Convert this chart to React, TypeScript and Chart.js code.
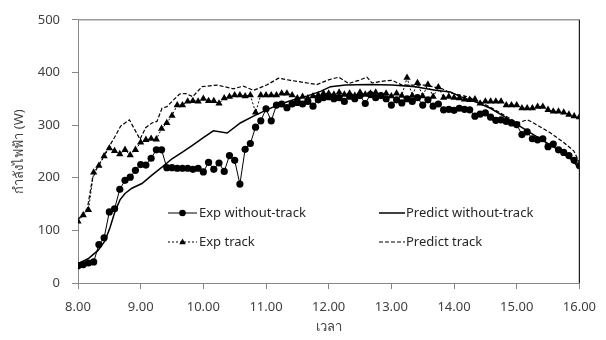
import React, { useEffect, useRef } from "react";
import { Chart, registerables } from "chart.js";

Chart.register(...registerables);

// ---------- DATA ----------
// Experimental readings every 5 minutes from 8.00 to 16.00 (97 readings)
const expStartHour = 8;
const expStepMinutes = 5;

const expWithoutTrack = [
  33, 35, 38, 40, 73, 86, 135, 141, 178, 195, 201, 214, 225, 224, 237, 253, 253, 219, 219, 218, 218, 218, 216, 218, 211,
  229, 216, 228, 212, 242, 233, 188, 254, 265, 296, 308, 331, 308, 338, 340, 333, 340, 343, 340, 345, 336, 348, 352, 354,
  350, 352, 345, 355, 350, 356, 341, 358, 352, 356, 350, 338, 348, 342, 350, 345, 352, 338, 348, 336, 340, 329, 330, 328,
  332, 330, 329, 317, 321, 323, 315, 309, 310, 307, 304, 301, 282, 287, 274, 272, 274, 259, 264, 253, 248, 242, 233, 223,
];

const expTrack = [
  117, 129, 139, 210, 223, 241, 256, 251, 245, 253, 243, 253, 267, 272, 274, 273, 293, 304, 318, 338, 338, 345, 346, 345, 350,
  346, 346, 341, 351, 354, 357, 357, 355, 357, 324, 357, 357, 357, 357, 360, 360, 357, 351, 354, 351, 355, 357, 360, 360,
  358, 362, 358, 360, 356, 362, 358, 360, 362, 356, 360, 355, 360, 356, 390, 356, 380, 355, 377, 354, 372, 352, 354, 352,
  351, 349, 348, 349, 341, 345, 345, 345, 345, 338, 338, 338, 332, 332, 332, 335, 335, 329, 326, 326, 324, 320, 317, 315,
];

// Predicted curves (time in decimal hours)
const predWithoutTrackTime = [
  8.0, 8.16, 8.32, 8.43, 8.51, 8.59, 8.67, 8.75, 8.86, 9.02, 9.18, 9.34, 9.5, 9.66, 9.82, 10.0, 10.16, 10.38, 10.59,
  10.8, 11.01, 11.23, 11.44, 11.65, 11.87, 12.03, 12.27, 12.64, 13.01, 13.38, 13.7, 13.94, 14.1, 14.37, 14.58, 14.79,
  15.01, 15.22, 15.43, 15.65, 15.86, 16.0,
];
const predWithoutTrack = [
  37, 46, 62, 80, 105, 136, 158, 170, 180, 189, 205, 220, 236, 248, 261, 276, 289, 285, 304, 317, 329, 340, 348, 355,
  364, 373, 376, 377, 376, 373, 366, 363, 354, 343, 332, 317, 301, 285, 270, 254, 236, 218,
];

const predTrackTime = [
  8.0, 8.15, 8.23, 8.31, 8.39, 8.47, 8.58, 8.68, 8.82, 8.99, 9.08, 9.18, 9.26, 9.34, 9.42, 9.5, 9.62, 9.72, 9.83, 9.98,
  10.22, 10.48, 10.64, 10.8, 11.01, 11.2, 11.39, 11.55, 11.81, 12.0, 12.16, 12.32, 12.48, 12.61, 12.69, 12.9, 13.01,
  13.17, 13.54, 13.81, 13.94, 14.21, 14.47, 14.74, 15.01, 15.17, 15.27, 15.54, 15.75, 15.91, 16.0,
];
const predTrack = [
  120, 142, 198, 220, 236, 254, 276, 298, 310, 273, 295, 304, 307, 332, 335, 345, 359, 360, 354, 373,
  376, 369, 374, 366, 376, 389, 385, 382, 377, 386, 391, 379, 385, 391, 380, 384, 385,
  376, 376, 369, 361, 354, 341, 323, 304, 310, 304, 285, 267, 251, 229,
];

const seriesLabels = ["Exp without-track", "Predict without-track", "Exp track", "Predict track"];
const xTitle = "เวลา";
const yTitle = "กำลังไฟฟ้า (W)";

// ---------- STYLE ----------
const FONT = '"Noto Sans", "Open Sans", "DejaVu Sans", sans-serif';
const TEXT = "#404040";
const AXIS = "#868686";

const expTime = (i: number) => expStartHour + (i * expStepMinutes) / 60;

const framePlugin = {
  id: "frame",
  afterDatasetsDraw(chart: any) {
    const { ctx, chartArea } = chart;
    ctx.save();
    ctx.lineWidth = 1.5;
    ctx.strokeStyle = "#9a9a9a";
    ctx.beginPath();
    ctx.moveTo(chartArea.left, chartArea.top);
    ctx.lineTo(chartArea.right, chartArea.top);
    ctx.stroke();
    ctx.lineWidth = 1.2;
    ctx.strokeStyle = "#1a1a1a";
    ctx.beginPath();
    ctx.moveTo(chartArea.right, chartArea.top);
    ctx.lineTo(chartArea.right, chartArea.bottom);
    ctx.stroke();
    ctx.restore();
  },
};

const legendPlugin = {
  id: "insideLegend",
  afterDraw(chart: any) {
    const ctx = chart.ctx as CanvasRenderingContext2D;
    const items = [
      { ds: 0, x0: 168, x1: 197, tx: 199, y: 213 },
      { ds: 1, x0: 379, x1: 405, tx: 406, y: 213 },
      { ds: 2, x0: 168, x1: 197, tx: 199, y: 242 },
      { ds: 3, x0: 379, x1: 405, tx: 406, y: 242 },
    ];
    ctx.save();
    for (const it of items) {
      const ds = chart.data.datasets[it.ds];
      ctx.strokeStyle = "#000";
      ctx.lineWidth = ds.borderWidth;
      ctx.setLineDash(ds.borderDash || []);
      ctx.beginPath();
      ctx.moveTo(it.x0, it.y);
      ctx.lineTo(it.x1, it.y);
      ctx.stroke();
      ctx.setLineDash([]);
      const cx = (it.x0 + it.x1) / 2;
      ctx.fillStyle = "#000";
      if (ds.pointStyle === "circle" && ds.pointRadius > 0) {
        ctx.beginPath();
        ctx.arc(cx, it.y, 3.3, 0, Math.PI * 2);
        ctx.fill();
      } else if (ds.pointStyle === "triangle" && ds.pointRadius > 0) {
        ctx.beginPath();
        ctx.moveTo(cx, it.y - 3.5);
        ctx.lineTo(cx + 3.2, it.y + 2.2);
        ctx.lineTo(cx - 3.2, it.y + 2.2);
        ctx.closePath();
        ctx.fill();
      }
      ctx.fillStyle = "#262626";
      ctx.font = `13px ${FONT}`;
      ctx.textAlign = "left";
      ctx.textBaseline = "middle";
      ctx.fillText(ds.label, it.tx, it.y);
    }
    ctx.restore();
  },
};

export default function App() {
  const ref = useRef<HTMLCanvasElement | null>(null);

  useEffect(() => {
    document.body.style.margin = "0";
    const canvas = ref.current;
    if (!canvas) return;

    const chart = new Chart(canvas, {
      type: "line",
      data: {
        datasets: [
          {
            label: seriesLabels[0],
            data: expWithoutTrack.map((v, i) => ({ x: expTime(i), y: v })),
            borderColor: "#000",
            backgroundColor: "#000",
            borderWidth: 1,
            pointStyle: "circle",
            pointRadius: 3.6,
            pointBorderWidth: 0,
            pointBackgroundColor: "#000",
          },
          {
            label: seriesLabels[1],
            data: predWithoutTrack.map((v, i) => ({ x: predWithoutTrackTime[i], y: v })),
            borderColor: "#000",
            borderWidth: 1.5,
            pointRadius: 0,
          },
          {
            label: seriesLabels[2],
            data: expTrack.map((v, i) => ({ x: expTime(i), y: v })),
            borderColor: "#000",
            backgroundColor: "#000",
            borderWidth: 1,
            borderDash: [2, 2],
            pointStyle: "triangle",
            pointRadius: 4.2,
            pointBorderWidth: 0,
            pointBackgroundColor: "#000",
          },
          {
            label: seriesLabels[3],
            data: predTrack.map((v, i) => ({ x: predTrackTime[i], y: v })),
            borderColor: "#000",
            borderWidth: 1.2,
            borderDash: [4, 2],
            pointRadius: 0,
          },
        ] as any,
      },
      options: {
        animation: false,
        responsive: true,
        maintainAspectRatio: false,
        layout: { padding: { left: 0, right: 26, top: 15, bottom: 0 } },
        plugins: {
          legend: { display: false },
          tooltip: { enabled: false },
        },
        elements: { line: { tension: 0 } },
        scales: {
          x: {
            type: "linear",
            min: 8,
            max: 16,
            ticks: {
              stepSize: 1,
              autoSkip: false,
              maxRotation: 0,
              padding: 10,
              color: TEXT,
              font: { family: FONT, size: 13 },
              callback: (v: any) => Number(v).toFixed(2),
            },
            grid: { drawOnChartArea: false, drawTicks: true, tickLength: 6, color: AXIS },
            border: { color: AXIS, width: 1 },
            title: {
              display: true,
              text: xTitle,
              color: TEXT,
              font: { family: FONT, size: 13 },
              padding: { top: 0, bottom: 5 },
            },
            afterFit: (s: any) => {
              s.height = 57;
            },
          },
          y: {
            min: 0,
            max: 500,
            ticks: {
              stepSize: 100,
              padding: 12,
              color: TEXT,
              font: { family: FONT, size: 13 },
            },
            grid: { drawOnChartArea: false, drawTicks: true, tickLength: 6, color: AXIS },
            border: { color: AXIS, width: 1 },
            title: {
              display: true,
              text: yTitle,
              color: TEXT,
              font: { family: FONT, size: 13 },
              padding: { top: 11, bottom: 0 },
            },
            afterFit: (s: any) => {
              s.width = 78;
            },
          },
        },
      },
      plugins: [framePlugin, legendPlugin],
    });
    return () => chart.destroy();
  }, []);

  return (
    <div style={{ position: "relative", width: 606, height: 340 }}>
      <canvas ref={ref} />
    </div>
  );
}
